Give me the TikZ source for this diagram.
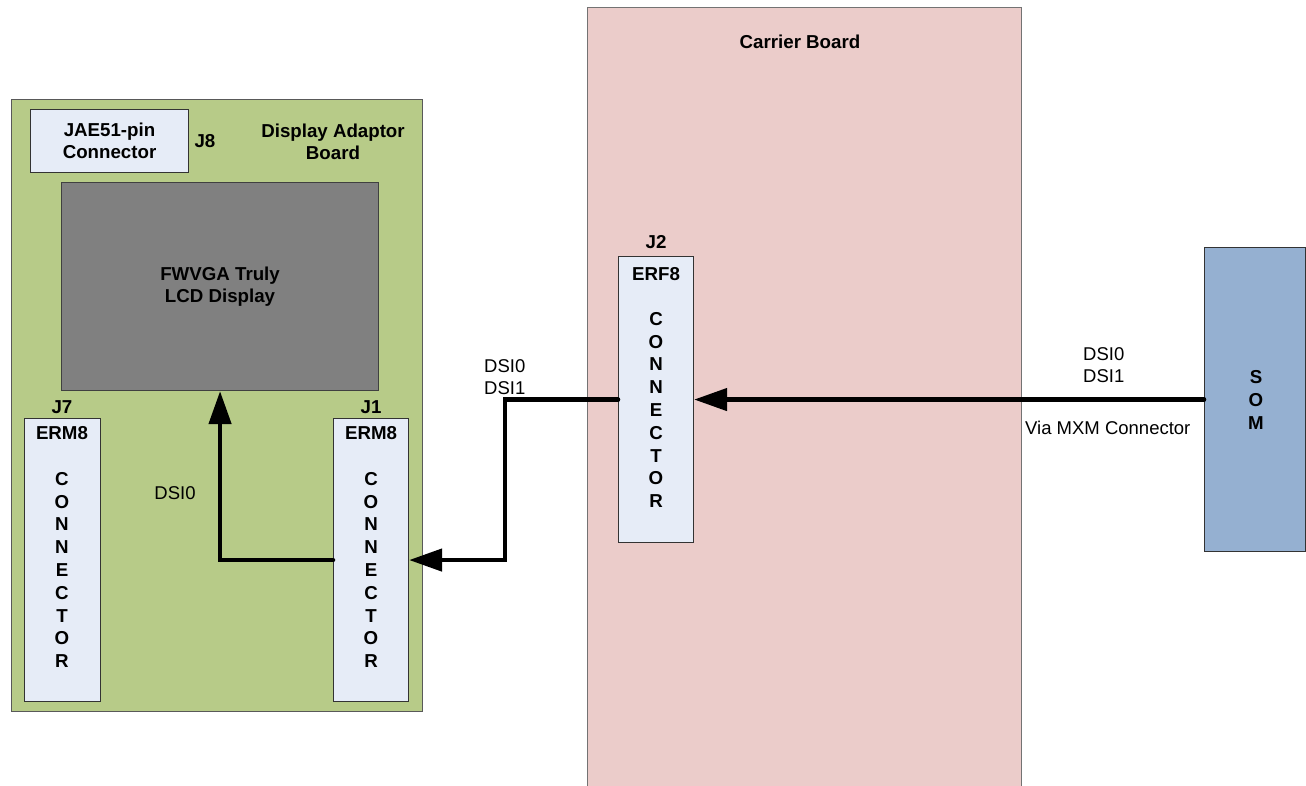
\documentclass[tikz,border=0pt]{standalone}
\usepackage{fontspec}
\setmainfont{Liberation Sans}
\usetikzlibrary{arrows.meta}

\definecolor{boardgreen}{HTML}{B7CB88}
\definecolor{boardpink}{HTML}{EBCCCA}
\definecolor{connblue}{HTML}{E6ECF7}
\definecolor{somblue}{HTML}{95B0D1}
\definecolor{lcdgray}{HTML}{808080}

\tikzset{
  x=1pt, y=-1pt,
  box/.style={rectangle, inner sep=0pt, anchor=north west},
  board/.style={box, draw=black!65, line width=1.3pt},
  conn/.style={box, fill=connblue, draw=black!80, line width=1.1pt},
  bold/.style={font=\fontsize{18.7}{22}\selectfont\bfseries, align=center, inner sep=0pt},
  plain/.style={font=\fontsize{18.5}{22.5}\selectfont, align=left, inner sep=0pt},
  vert/.style={font=\fontsize{18.7}{22.8}\selectfont\bfseries, align=center, inner sep=0pt},
  sig/.style={line width=4.5pt, line cap=round, line join=miter},
  tip/.style={-{Triangle[length=33pt, width=22pt]}},
}

\begin{document}
\begin{tikzpicture}
\useasboundingbox (0,0) rectangle (1306,786);

% carrier board, running past the lower page edge
\node[board, fill=boardpink, draw=black!55, minimum width=434pt, minimum height=800pt] (carrier) at (587,7) {};
\node[bold] (carrierlbl) at (800,42) {Carrier Board};

% display adaptor board
\node[board, fill=boardgreen, minimum width=411pt, minimum height=612pt] (dab) at (11,99) {};
\node[bold] (dablbl) at (333,142) {Display Adaptor\\Board};

% J8 connector
\node[conn, minimum width=158pt, minimum height=63pt] (j8) at (30,109) {};
\node[bold] (j8txt) at (j8.center) {JAE51-pin\\Connector};
\node[bold] (j8lbl) at (205,141) {J8};

% LCD panel
\node[box, fill=lcdgray, draw=black!75, line width=1.1pt, minimum width=317pt, minimum height=208pt] (lcd) at (61,182) {};
\node[bold] (lcdtxt) at (lcd.center) {FWVGA Truly\\LCD Display};

% J7 connector
\node[conn, minimum width=76pt, minimum height=283pt] (j7) at (24,418) {};
\node[bold] (j7lbl) at (62,407) {J7};
\node[bold] (j7a) at (62,433) {ERM8};
\node[vert] (j7b) at (62,570) {C\\O\\N\\N\\E\\C\\T\\O\\R};

% J1 connector
\node[conn, minimum width=75pt, minimum height=283pt] (j1) at (333,418) {};
\node[bold] (j1lbl) at (371,407) {J1};
\node[bold] (j1a) at (371,433) {ERM8};
\node[vert] (j1b) at (371,570) {C\\O\\N\\N\\E\\C\\T\\O\\R};

% J2 connector on the carrier
\node[conn, minimum width=75pt, minimum height=286pt] (j2) at (618,256) {};
\node[bold] (j2lbl) at (656,242) {J2};
\node[bold] (j2a) at (656,274) {ERF8};
\node[vert] (j2b) at (656,410) {C\\O\\N\\N\\E\\C\\T\\O\\R};

% system on module
\node[box, fill=somblue, draw=black!80, line width=1.1pt, minimum width=101pt, minimum height=304pt] (som) at (1204,247) {};
\node[vert] (somtxt) at (1256,400) {S\\O\\M};

% signal routing
\coordinate (bend) at (505,400);
\draw[sig, tip] (som.west) -- (j2.east);
\draw[sig, tip] (j2.west) -| (bend |- j1.east) -- (j1.east);
\draw[sig, tip] (j1.west) -| (lcd.south);

% signal labels
\node[plain, anchor=west] (dsia) at (484,377) {DSI0\\DSI1};
\node[plain, anchor=west] (dsib) at (1083,365) {DSI0\\DSI1};
\node[plain, anchor=west] (mxm) at (1025,428) {Via MXM Connector};
\node[plain] (dsic) at (175,493) {DSI0};
\end{tikzpicture}
\end{document}
